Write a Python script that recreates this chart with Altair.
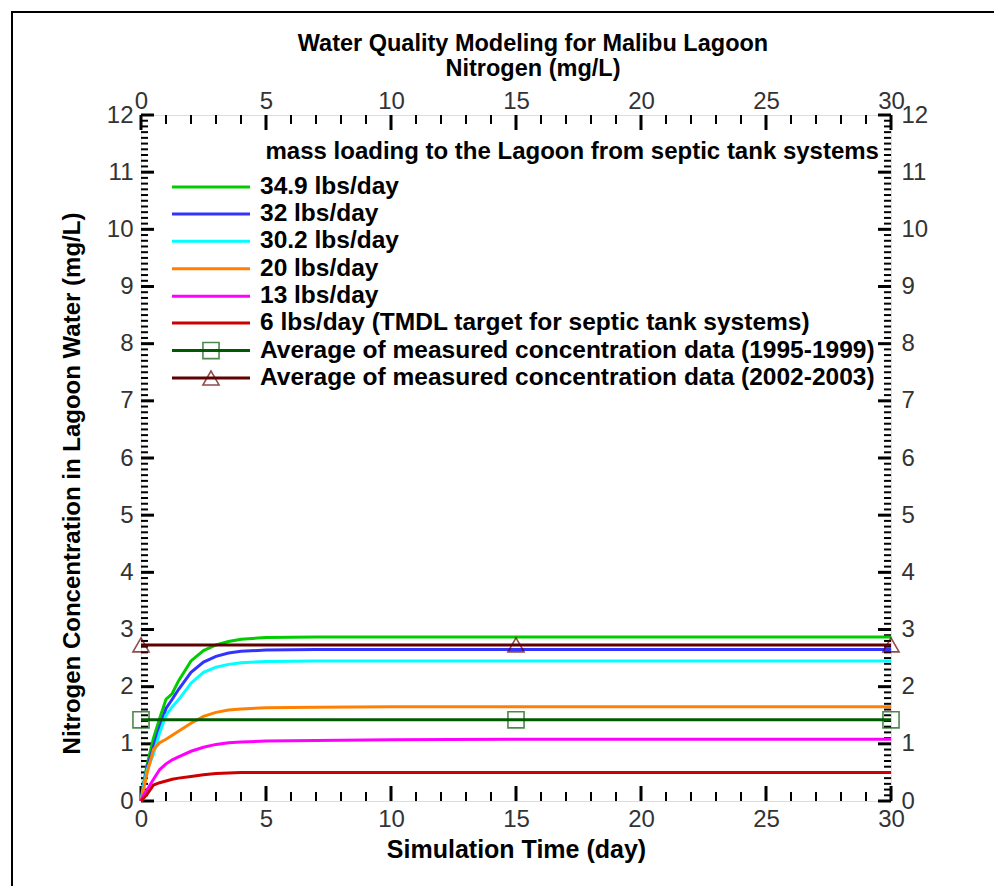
import altair as alt
import pandas as pd

W, H = 750, 686
FONT = "Liberation Sans"

# ---------------- data ----------------
t = [0, 0.1, 0.25, 0.5, 0.75, 1, 1.25, 1.5, 2, 2.5, 3, 3.5, 4, 5, 7, 10, 15, 20, 25, 30]
s349 = [0, 0.30, 0.65, 1.10, 1.45, 1.78, 1.88, 2.10, 2.45, 2.63, 2.73, 2.79, 2.83, 2.86, 2.87, 2.87, 2.87, 2.87, 2.87, 2.87]
s32 = [0, 0.27, 0.60, 0.95, 1.30, 1.62, 1.78, 1.95, 2.25, 2.43, 2.53, 2.59, 2.62, 2.64, 2.65, 2.65, 2.65, 2.65, 2.65, 2.65]
s302 = [0, 0.25, 0.55, 0.82, 1.20, 1.50, 1.65, 1.77, 2.06, 2.25, 2.34, 2.39, 2.42, 2.44, 2.45, 2.45, 2.45, 2.45, 2.45, 2.45]
s20 = [0, 0.20, 0.50, 0.90, 1.02, 1.08, 1.15, 1.22, 1.36, 1.48, 1.55, 1.59, 1.61, 1.63, 1.64, 1.65, 1.65, 1.65, 1.65, 1.65]
s13 = [0, 0.10, 0.20, 0.38, 0.55, 0.65, 0.72, 0.77, 0.87, 0.94, 0.99, 1.02, 1.03, 1.05, 1.06, 1.07, 1.08, 1.08, 1.08, 1.08]
s6 = [0, 0.05, 0.12, 0.28, 0.32, 0.35, 0.38, 0.40, 0.43, 0.46, 0.48, 0.49, 0.50, 0.50, 0.50, 0.50, 0.50, 0.50, 0.50, 0.50]

model_names = [
    "34.9 lbs/day",
    "32 lbs/day",
    "30.2 lbs/day",
    "20 lbs/day",
    "13 lbs/day",
    "6 lbs/day (TMDL target for septic tank systems)",
]
model_values = [s349, s32, s302, s20, s13, s6]
model_colors = ["#00cc00", "#3333ff", "#00ffff", "#ff8000", "#ff00ff", "#cc0000"]

meas_names = [
    "Average of measured concentration data (1995-1999)",
    "Average of measured concentration data (2002-2003)",
]
meas_t = [0, 15, 30]
meas_values = [1.42, 2.73]
meas_colors = ["#005a00", "#600000"]
meas_shapes = ["square", "triangle-up"]

legend_header = "mass loading to the Lagoon from septic tank systems"
legend_y = [10.74, 10.27, 9.79, 9.31, 8.83, 8.36, 7.88, 7.40]
legend_header_y = 11.36

x_ticks = [0, 5, 10, 15, 20, 25, 30]
y_ticks = list(range(0, 13))

# ---------------- tables ----------------
all_names = model_names + meas_names
all_colors = model_colors + meas_colors

model_df = pd.DataFrame(
    [{"t": tt, "v": vv, "name": n, "order": i}
     for n, vals in zip(model_names, model_values)
     for i, (tt, vv) in enumerate(zip(t, vals))]
)
meas_df = pd.DataFrame(
    [{"t": tt, "v": v, "name": n, "shape": s}
     for n, v, s in zip(meas_names, meas_values, meas_shapes)
     for tt in meas_t]
)
leg_df = pd.DataFrame({
    "name": all_names,
    "y": legend_y,
    "x1": [1.24] * 8,
    "x2": [4.36] * 8,
    "xm": [2.8] * 8,
    "xt": [4.76] * 8,
})
leg_marks = leg_df.iloc[6:].copy()
leg_marks["shape"] = meas_shapes
hdr_df = pd.DataFrame({"x": [4.98], "y": [legend_header_y], "text": [legend_header]})

xmaj = pd.DataFrame({"x": x_ticks})
xmin = pd.DataFrame({"x": [i for i in range(0, 31) if i % 5]})
ymaj = pd.DataFrame({"y": y_ticks})
ymin = pd.DataFrame({"y": [round(i * 0.1, 1) for i in range(0, 121) if i % 10]})
axis_df = pd.DataFrame({"x": x_ticks, "y": [0, 2, 4, 6, 8, 10, 12]})

xs = alt.Scale(domain=[0, 30], nice=False, zero=False)
ys = alt.Scale(domain=[0, 12], nice=False, zero=False)
cs = alt.Scale(domain=all_names, range=all_colors)


def X(f):
    return alt.X(f, scale=xs, axis=None)


def Y(f):
    return alt.Y(f, scale=ys, axis=None)


lab = dict(labelFont=FONT, labelFontSize=24, labelColor="#333333", labelFontWeight="normal",
           ticks=False, domain=False, grid=False, labelFlush=False)

x_bottom = alt.Axis(orient="bottom", values=x_ticks, format="d", labelPadding=6,
                    title="Simulation Time (day)", titleFont=FONT, titleFontSize=25,
                    titleFontWeight="bold", titleColor="black", titlePadding=6, **lab)
y_left = alt.Axis(orient="left", values=y_ticks, format="d", labelPadding=8,
                  title="Nitrogen Concentration in Lagoon Water  (mg/L)", titleFont=FONT,
                  titleFontSize=24, titleFontWeight="bold", titleColor="black",
                  titleX=-69, titleY=368, titleAlign="center", titleBaseline="middle",
                  titleAngle=270, **lab)
x_top = alt.Axis(orient="top", values=x_ticks, format="d", labelPadding=2, title=None, **lab)
y_right = alt.Axis(orient="right", values=y_ticks, format="d", labelPadding=10, title=None, **lab)

one = pd.DataFrame({"a": [0]})

border = alt.Chart(one).mark_rect(fillOpacity=0, stroke="black", strokeWidth=2).encode(
    x=alt.value(-129), x2=alt.value(W + 120), y=alt.value(-103), y2=alt.value(H + 110)
)

axes_bl = alt.Chart(axis_df).mark_point(opacity=0).encode(
    x=alt.X("x:Q", scale=xs, axis=x_bottom),
    y=alt.Y("y:Q", scale=ys, axis=y_left),
)
axes_tr = alt.Chart(axis_df).mark_point(opacity=0).encode(
    x=alt.X("x:Q", scale=xs, axis=x_top),
    y=alt.Y("y:Q", scale=ys, axis=y_right),
)

tick_layers = [
    alt.Chart(xmaj).mark_rule(color="black", strokeWidth=3).encode(
        x=X("x:Q"), y=alt.value(H), y2=alt.value(H - 15)),
    alt.Chart(xmin).mark_rule(color="black", strokeWidth=2).encode(
        x=X("x:Q"), y=alt.value(H), y2=alt.value(H - 9)),
    alt.Chart(xmaj).mark_rule(color="black", strokeWidth=3).encode(
        x=X("x:Q"), y=alt.value(0), y2=alt.value(15)),
    alt.Chart(xmin).mark_rule(color="black", strokeWidth=2).encode(
        x=X("x:Q"), y=alt.value(0), y2=alt.value(9)),
    alt.Chart(ymaj).mark_rule(color="black", strokeWidth=3).encode(
        y=Y("y:Q"), x=alt.value(0), x2=alt.value(13)),
    alt.Chart(ymin).mark_rule(color="black", strokeWidth=2).encode(
        y=Y("y:Q"), x=alt.value(0), x2=alt.value(7)),
    alt.Chart(ymaj).mark_rule(color="black", strokeWidth=3).encode(
        y=Y("y:Q"), x=alt.value(W), x2=alt.value(W - 13)),
    alt.Chart(ymin).mark_rule(color="black", strokeWidth=2).encode(
        y=Y("y:Q"), x=alt.value(W), x2=alt.value(W - 7)),
]

curves = alt.Chart(model_df).mark_line(strokeWidth=3).encode(
    x=X("t:Q"),
    y=Y("v:Q"),
    color=alt.Color("name:N", scale=cs, legend=None),
    order="order:Q",
)

meas_lines = alt.Chart(meas_df).mark_line(strokeWidth=3).encode(
    x=X("t:Q"),
    y=Y("v:Q"),
    color=alt.Color("name:N", scale=cs, legend=None),
)
meas_pts = alt.Chart(meas_df).mark_point(filled=False, size=260, strokeWidth=1.6).encode(
    x=X("t:Q"),
    y=Y("v:Q"),
    color=alt.Color("name:N", scale=cs, legend=None),
    shape=alt.Shape("shape:N", scale=None, legend=None),
)

leg_lines = alt.Chart(leg_df).mark_rule(strokeWidth=3).encode(
    x=X("x1:Q"), x2="x2:Q", y=Y("y:Q"),
    color=alt.Color("name:N", scale=cs, legend=None),
)
leg_pts = alt.Chart(leg_marks).mark_point(filled=False, size=260, strokeWidth=1.6).encode(
    x=X("xm:Q"), y=Y("y:Q"),
    color=alt.Color("name:N", scale=cs, legend=None),
    shape=alt.Shape("shape:N", scale=None, legend=None),
)
leg_text = alt.Chart(leg_df).mark_text(
    align="left", baseline="middle", font=FONT, fontSize=24.5, fontWeight="bold", color="black"
).encode(x=X("xt:Q"), y=Y("y:Q"), text="name:N")
hdr_text = alt.Chart(hdr_df).mark_text(
    align="left", baseline="middle", font=FONT, fontSize=24, fontWeight="bold", color="black"
).encode(x=X("x:Q"), y=Y("y:Q"), text="text:N")

chart = alt.layer(
    border, axes_bl, axes_tr, *tick_layers, curves, meas_lines, meas_pts,
    leg_lines, leg_pts, leg_text, hdr_text,
).resolve_axis(x="independent", y="independent").properties(
    width=W,
    height=H,
    padding={"left": 133, "top": 107, "right": 103, "bottom": 85},
    autosize=alt.AutoSizeParams(type="none"),
    title=alt.TitleParams(
        text=["Water Quality Modeling for Malibu Lagoon", "Nitrogen (mg/L)"],
        font=FONT, fontSize=23.5, fontWeight="bold", color="black",
        anchor="middle", dx=17, offset=-69, lineHeight=25,
    ),
).configure_view(stroke="black", strokeWidth=3).configure(background="white")

chart.save("out.html", embed_options={"renderer": "svg", "actions": False})
